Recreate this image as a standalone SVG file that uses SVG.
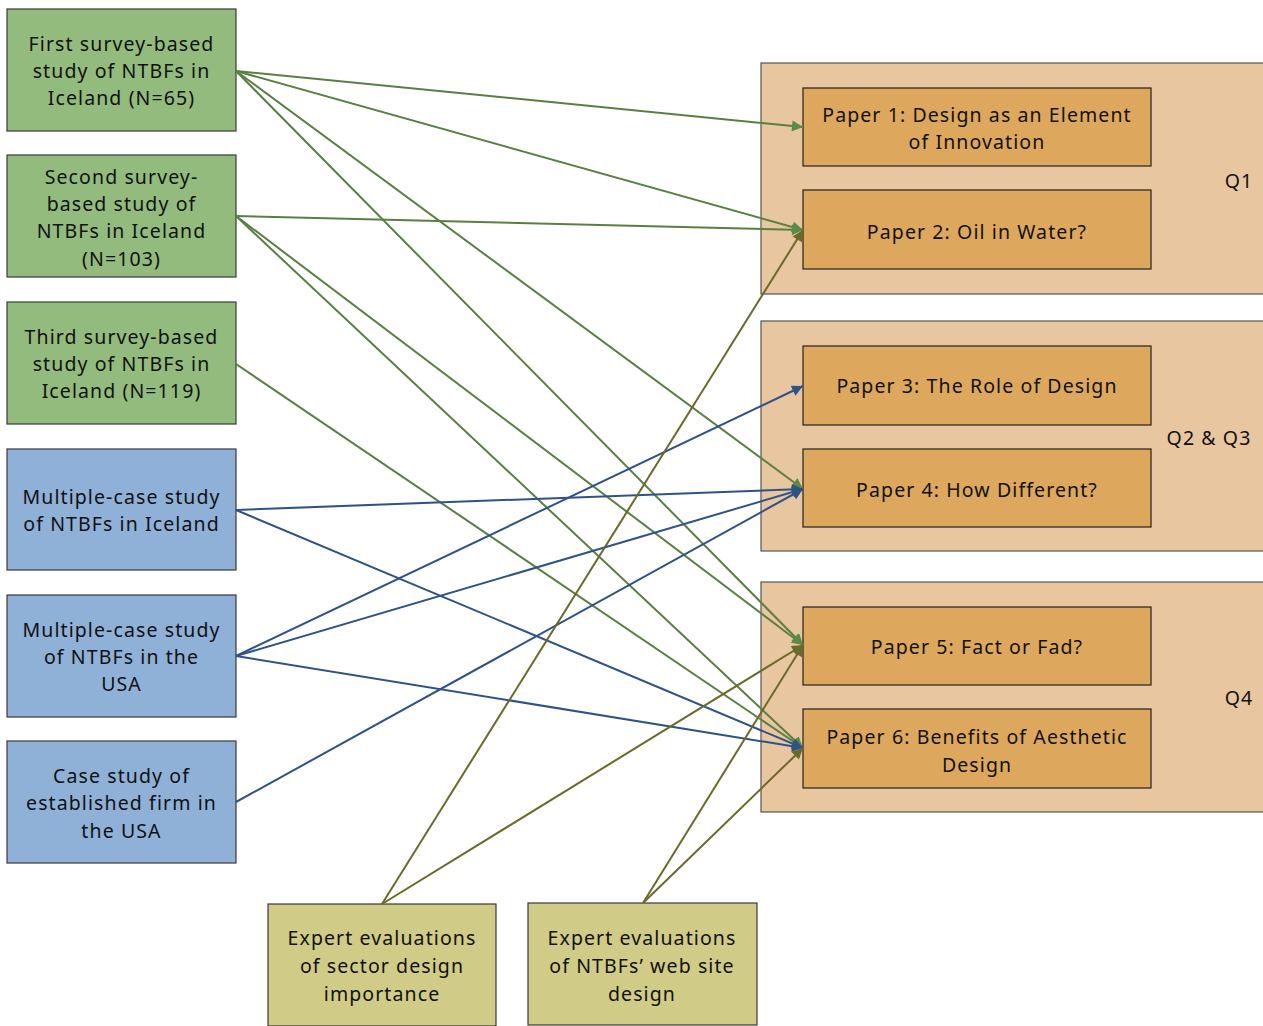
<svg xmlns="http://www.w3.org/2000/svg" width="1263" height="1026" viewBox="0 0 1263 1026">
<defs>
<style>
text{font-family:"Noto Sans","Open Sans","DejaVu Sans",sans-serif;font-size:19.5px;letter-spacing:1.1px;fill:#111;text-anchor:middle}
.src{stroke:#3a3a3a;stroke-width:1.2}
.g{fill:#93BB7E}.b{fill:#8FB0D7}.y{fill:#D0CB86}
.grp{fill:#E8C6A0;stroke:#555;stroke-width:1.2}
.pap{fill:#DDA85E;stroke:#222;stroke-width:1.2}
.cg{stroke:#5A7F42;stroke-width:2;fill:none;marker-end:url(#ag)}
.cb{stroke:#2F5387;stroke-width:2;fill:none;marker-end:url(#ab)}
.co{stroke:#6A6A2A;stroke-width:2;fill:none;marker-end:url(#ao)}
</style>
<marker id="ag" viewBox="0 0 10 10" refX="10" refY="5" markerWidth="7" markerHeight="5.5" orient="auto"><path d="M0,0L10,5L0,10z" fill="#5A8A46"/></marker>
<marker id="ab" viewBox="0 0 10 10" refX="10" refY="5" markerWidth="7" markerHeight="5.5" orient="auto"><path d="M0,0L10,5L0,10z" fill="#2F5387"/></marker>
<marker id="ao" viewBox="0 0 10 10" refX="10" refY="5" markerWidth="7" markerHeight="5.5" orient="auto"><path d="M0,0L10,5L0,10z" fill="#6A6A2A"/></marker>
</defs>
<rect width="1263" height="1026" fill="#fff"/>
<g id="group-q1"><rect class="grp" x="761" y="63" width="510" height="231"/><text x="1239" y="188">Q1</text></g>
<g id="group-q23"><rect class="grp" x="761" y="321" width="510" height="230"/><text x="1209" y="445">Q2 &amp; Q3</text></g>
<g id="group-q4"><rect class="grp" x="761" y="582" width="510" height="230"/><text x="1239" y="705">Q4</text></g>
<g id="paper1"><rect class="pap" x="803" y="88" width="348" height="78"/><text x="977" y="122">Paper 1: Design as an Element</text><text x="977" y="149">of Innovation</text></g>
<g id="paper2"><rect class="pap" x="803" y="190" width="348" height="79"/><text x="977" y="239">Paper 2: Oil in Water?</text></g>
<g id="paper3"><rect class="pap" x="803" y="346" width="348" height="79"/><text x="977" y="393">Paper 3: The Role of Design</text></g>
<g id="paper4"><rect class="pap" x="803" y="449" width="348" height="78"/><text x="977" y="497">Paper 4: How Different?</text></g>
<g id="paper5"><rect class="pap" x="803" y="607" width="348" height="78"/><text x="977" y="654">Paper 5: Fact or Fad?</text></g>
<g id="paper6"><rect class="pap" x="803" y="709" width="348" height="79"/><text x="977" y="744">Paper 6: Benefits of Aesthetic</text><text x="977" y="772">Design</text></g>
<g id="src1"><rect class="src g" x="7" y="9" width="229" height="122"/><text x="121.5" y="51">First survey-based</text><text x="121.5" y="78">study of NTBFs in</text><text x="121.5" y="105">Iceland (N=65)</text></g>
<g id="src2"><rect class="src g" x="7" y="155" width="229" height="122"/><text x="121.5" y="184">Second survey-</text><text x="121.5" y="211">based study of</text><text x="121.5" y="238">NTBFs in Iceland</text><text x="121.5" y="266">(N=103)</text></g>
<g id="src3"><rect class="src g" x="7" y="302" width="229" height="122"/><text x="121.5" y="344">Third survey-based</text><text x="121.5" y="371">study of NTBFs in</text><text x="121.5" y="398">Iceland (N=119)</text></g>
<g id="src4"><rect class="src b" x="7" y="449" width="229" height="121"/><text x="121.5" y="504">Multiple-case study</text><text x="121.5" y="531">of NTBFs in Iceland</text></g>
<g id="src5"><rect class="src b" x="7" y="595" width="229" height="122"/><text x="121.5" y="637">Multiple-case study</text><text x="121.5" y="664">of NTBFs in the</text><text x="121.5" y="691">USA</text></g>
<g id="src6"><rect class="src b" x="7" y="741" width="229" height="122"/><text x="121.5" y="783">Case study of</text><text x="121.5" y="810">established firm in</text><text x="121.5" y="838">the USA</text></g>
<g id="src7"><rect class="src y" x="268" y="904" width="228" height="122"/><text x="382" y="945">Expert evaluations</text><text x="382" y="973">of sector design</text><text x="382" y="1001">importance</text></g>
<g id="src8"><rect class="src y" x="528" y="903" width="229" height="122"/><text x="642" y="945">Expert evaluations</text><text x="642" y="973">of NTBFs’ web site</text><text x="642" y="1001">design</text></g>
<g id="connectors">
<line class="cg" x1="236" y1="71" x2="803" y2="127"/>
<line class="cg" x1="236" y1="71" x2="803" y2="230"/>
<line class="cg" x1="236" y1="71" x2="803" y2="489"/>
<line class="cg" x1="236" y1="71" x2="803" y2="645"/>
<line class="cg" x1="236" y1="216" x2="803" y2="230"/>
<line class="cg" x1="236" y1="216" x2="803" y2="645"/>
<line class="cg" x1="236" y1="216" x2="803" y2="748"/>
<line class="cg" x1="236" y1="364" x2="803" y2="748"/>
<line class="cb" x1="236" y1="510" x2="803" y2="489"/>
<line class="cb" x1="236" y1="510" x2="803" y2="748"/>
<line class="cb" x1="236" y1="656" x2="803" y2="386"/>
<line class="cb" x1="236" y1="656" x2="803" y2="489"/>
<line class="cb" x1="236" y1="656" x2="803" y2="748"/>
<line class="cb" x1="236" y1="802" x2="803" y2="489"/>
<line class="co" x1="382" y1="904" x2="803" y2="230"/>
<line class="co" x1="382" y1="904" x2="803" y2="645"/>
<line class="co" x1="643" y1="903" x2="803" y2="645"/>
<line class="co" x1="643" y1="903" x2="803" y2="748"/>
</g>
</svg>
